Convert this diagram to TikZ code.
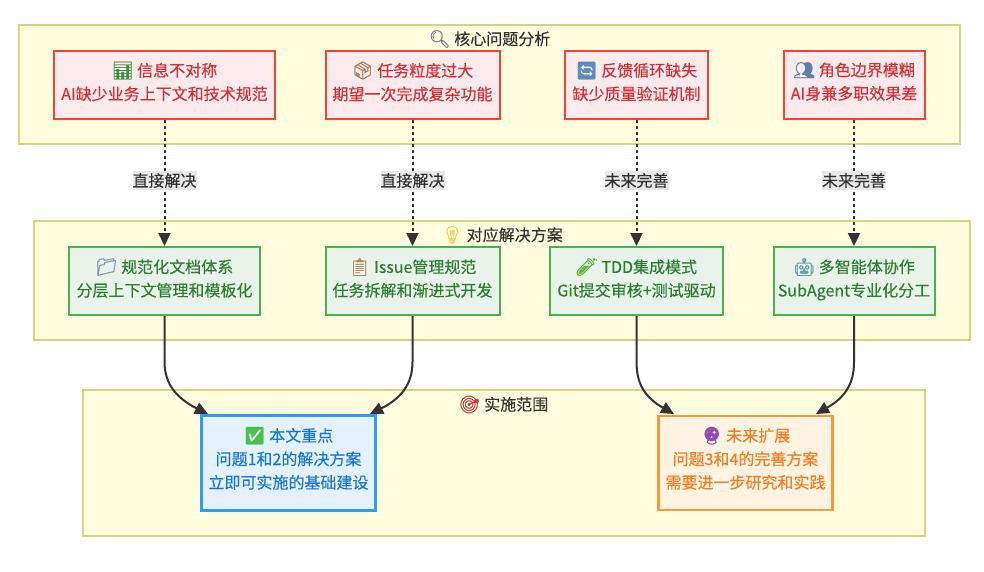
\documentclass[tikz,border=0pt]{standalone}
\usepackage{fontspec}
\usetikzlibrary{arrows.meta}
\setmainfont{Noto Sans CJK SC}[RawFeature={embolden=0.25}]
\newfontfamily\emojifont{Noto Emoji}[RawFeature={embolden=1.0},Scale=1.08]
\newcommand{\emo}[2]{{\emojifont\textcolor[HTML]{#1}{#2}}}
\definecolor{clfill}{HTML}{FFFDDE}
\definecolor{cldraw}{HTML}{D6D47C}
\definecolor{ink}{HTML}{333333}
\definecolor{redfill}{HTML}{FBEBEC}
\definecolor{redline}{HTML}{F44336}
\definecolor{redtext}{HTML}{D32F36}
\definecolor{greenfill}{HTML}{E8F4E9}
\definecolor{greenline}{HTML}{4CAF50}
\definecolor{greentext}{HTML}{2E7D32}
\definecolor{bluefill}{HTML}{E3F2FD}
\definecolor{blueline}{HTML}{2F9BF3}
\definecolor{bluetext}{HTML}{1976D2}
\definecolor{orangefill}{HTML}{FFF3E2}
\definecolor{orangeline}{HTML}{F9983A}
\definecolor{orangetext}{HTML}{F57C20}
\definecolor{tagfill}{HTML}{E8E8E8}
\tikzset{
  base/.style={rectangle,align=center,inner sep=0pt,font=\fontsize{12}{17.6}\selectfont},
  dims/.style 2 args={minimum width=#1*0.75pt,minimum height=#2*0.75pt},
  cluster/.style={rectangle,fill=clfill,draw=cldraw,line width=1.1pt,inner sep=0pt},
  cltitle/.style={inner sep=0pt,text=ink,font=\fontsize{12}{18}\selectfont},
  problem/.style={base,fill=redfill,draw=redline,text=redtext,line width=1.5pt},
  solution/.style={base,fill=greenfill,draw=greenline,text=greentext,line width=1.5pt},
  focus/.style={base,fill=bluefill,draw=blueline,text=bluetext,line width=2.25pt},
  future/.style={base,fill=orangefill,draw=orangeline,text=orangetext,line width=1.9pt},
  link/.style={draw=ink,line width=1.5pt,-{Triangle[length=9.75pt,width=9pt]}},
  dotlink/.style={link,dash pattern=on 2.25pt off 2.25pt},
  tag/.style={fill=tagfill,text=ink,inner sep=0pt,minimum width=47.5pt,minimum height=14.5pt,font=\fontsize{12}{14}\selectfont},
}
\newcommand{\liftstrut}{\rule[-8pt]{0pt}{0pt}}
\newcommand{\liftsmall}{\rule[-5.5pt]{0pt}{0pt}}
\begin{document}
\begin{tikzpicture}[x=0.75pt,y=-0.75pt]
\path[use as bounding box,fill=white] (0,0) rectangle (984,571);
% clusters
\node[cluster,dims={941}{119}] (c1) at (489.5,84.5) {};
\node[cluster,dims={936}{119}] (c2) at (502,280.5) {};
\node[cluster,dims={842}{146}] (c3) at (504,463) {};
\node[cltitle] (c1t) at (489.5,39) {\emo{6E7F8C}{🔍} 核心问题分析};
\node[cltitle] (c2t) at (502,235) {\emo{F2D060}{💡} 对应解决方案};
\node[cltitle] (c3t) at (503.5,404.5) {\emo{C8383C}{🎯} 实施范围};
% problems
\node[problem,dims={221}{68}] (p1) at (164.5,84.5) {\emo{3E8E41}{📊} 信息不对称\\AI缺少业务上下文和技术规范\liftsmall};
\node[problem,dims={174}{68}] (p2) at (412.5,84.5) {\emo{A9794C}{📦} 任务粒度过大\\期望一次完成复杂功能\liftsmall};
\node[problem,dims={143}{68}] (p3) at (636.5,84.5) {\emo{5C8DB8}{🔄} 反馈循环缺失\\缺少质量验证机制\liftsmall};
\node[problem,dims={141}{68}] (p4) at (854,84.5) {\emo{5D7FA3}{👥} 角色边界模糊\\AI身兼多职效果差\liftsmall};
% solutions
\node[solution,dims={191}{68}] (s1) at (164.5,281) {\emo{8090A8}{📁} 规范化文档体系\\分层上下文管理和模板化\liftsmall};
\node[solution,dims={174}{68}] (s2) at (412.5,281) {\emo{B08A60}{📋} Issue管理规范\\任务拆解和渐进式开发\liftsmall};
\node[solution,dims={173}{68}] (s3) at (636.5,281) {\emo{5FB040}{🧪} TDD集成模式\\Git提交审核+测试驱动\liftsmall};
\node[solution,dims={161}{68}] (s4) at (854,281) {\emo{5B9BB0}{🤖} 多智能体协作\\SubAgent专业化分工\liftsmall};
% results
\node[focus,dims={173.5}{94.5}] (r1) at (288.5,463) {\emo{4CC04C}{✅} 本文重点\\问题1和2的解决方案\\立即可实施的基础建设\liftstrut};
\node[future,dims={174}{94}] (r2) at (745.5,463) {\emo{8E4AB0}{🔮} 未来扩展\\问题3和4的完善方案\\需要进一步研究和实践\liftstrut};
% free ends of the curved links
\coordinate (t1) at (208,414);
\coordinate (t2) at (370,414);
\coordinate (t3) at (674,414);
\coordinate (t4) at (816,414);
% dotted links
\draw[dotlink] (p1.south) -- (s1.north);
\draw[dotlink] (p2.south) -- (s2.north);
\draw[dotlink] (p3.south) -- (s3.north);
\draw[dotlink] (p4.south) -- (s4.north);
% curved links
\draw[link] (s1.south) -- (164.5,362) .. controls (164.5,385) and (178,399) .. (t1);
\draw[link] (s2.south) -- (412.5,362) .. controls (412.5,385) and (400,399) .. (t2);
\draw[link] (s3.south) -- (636.5,362) .. controls (636.5,385) and (646,398) .. (t3);
\draw[link] (s4.south) -- (854,362) .. controls (854,385) and (844,398) .. (t4);
% labels
\node[tag] (l1) at (164.5,180.5) {直接解决};
\node[tag] (l2) at (412.5,180.5) {直接解决};
\node[tag] (l3) at (636.5,180.5) {未来完善};
\node[tag] (l4) at (854,180.5) {未来完善};
\end{tikzpicture}
\end{document}
